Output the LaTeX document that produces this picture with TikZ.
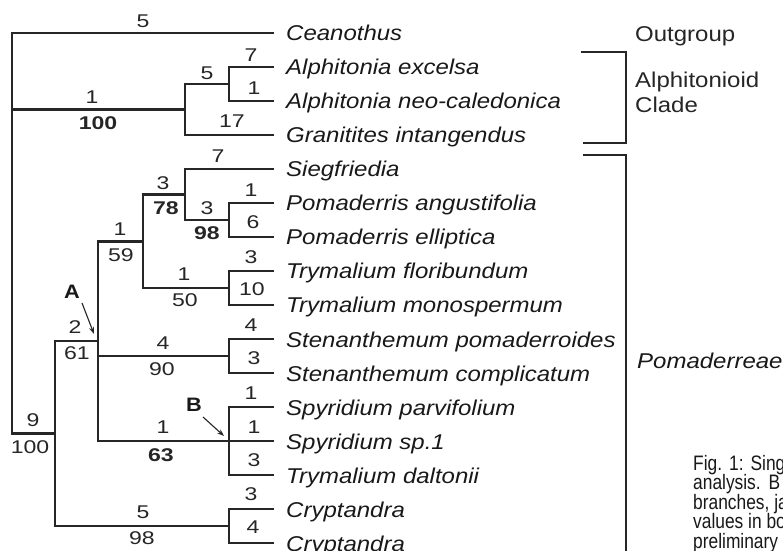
\documentclass[tikz,border=0pt]{standalone}
\usepackage{fontspec}
\setmainfont{Liberation Sans}
\newfontfamily\taxfont[FakeStretch=1.12]{Liberation Sans}
\newfontfamily\numfont[FakeStretch=1.25]{Liberation Sans}
\newfontfamily\capfont[FakeStretch=0.83]{Liberation Sans}
\usetikzlibrary{arrows.meta}
\begin{document}
\begin{tikzpicture}[x=1bp,y=-1bp,
  branch/.style={draw=black!85, line width=2.8bp, line cap=rect, line join=miter},
  brack/.style={draw=black!85, line width=2.2bp, line join=miter},
  taxon/.style={anchor=base west, inner sep=0pt, font=\taxfont\itshape\fontsize{21.5}{24}\selectfont, text=black!90},
  group/.style={anchor=base west, inner sep=0pt, font=\taxfont\fontsize{21.5}{24}\selectfont, text=black!85},
  num/.style={inner sep=0pt, font=\numfont\fontsize{18.5}{20}\selectfont, text=black!85},
  bnum/.style={inner sep=0pt, font=\numfont\bfseries\fontsize{18.5}{20}\selectfont, text=black!85},
  letter/.style={inner sep=0pt, font=\taxfont\bfseries\fontsize{19.5}{22}\selectfont, text=black!90},
  pointer/.style={draw=black!85, line width=1.1bp, -{Stealth[length=7bp,width=5bp]}},
  captxt/.style={anchor=base west, inner sep=0pt, font=\capfont\fontsize{21}{23}\selectfont, text=black!90}
]
\fill[white] (0,0) rectangle (783,551);
\useasboundingbox (0,0) rectangle (783,551);
\clip (0,0) rectangle (783,551);

% tips
\coordinate (t1) at (273,33);
\coordinate (t2) at (273,67);
\coordinate (t3) at (273,101);
\coordinate (t4) at (273,135);
\coordinate (t5) at (273,169);
\coordinate (t6) at (273,203);
\coordinate (t7) at (273,237);
\coordinate (t8) at (273,271);
\coordinate (t9) at (273,305);
\coordinate (t10) at (273,339);
\coordinate (t11) at (273,373);
\coordinate (t12) at (273,407);
\coordinate (t13) at (273,441);
\coordinate (t14) at (273,475);
\coordinate (t15) at (273,509);
\coordinate (t16) at (273,543);
% internal nodes
\coordinate (root) at (12,233);
\coordinate (alph) at (185,109.5);
\coordinate (alphA) at (229,84);
\coordinate (ingrp) at (55,433.75);
\coordinate (nA) at (98,341);
\coordinate (upper) at (143,241.25);
\coordinate (sieg) at (185,194.5);
\coordinate (pom) at (229,220);
\coordinate (trym) at (229,288);
\coordinate (sten) at (229,356);
\coordinate (spyr) at (229,441);
\coordinate (crypt) at (229,526);

% branches
\draw[branch] (root) |- (t1);
\draw[branch] (root) |- (alph);
\draw[branch] (root) |- (ingrp);
\draw[branch] (alph) |- (alphA);
\draw[branch] (alph) |- (t4);
\draw[branch] (alphA) |- (t2);
\draw[branch] (alphA) |- (t3);
\draw[branch] (ingrp) |- (nA);
\draw[branch] (ingrp) |- (crypt);
\draw[branch] (nA) |- (upper);
\draw[branch] (nA) |- (sten);
\draw[branch] (nA) |- (spyr);
\draw[branch] (upper) |- (sieg);
\draw[branch] (upper) |- (trym);
\draw[branch] (sieg) |- (t5);
\draw[branch] (sieg) |- (pom);
\draw[branch] (pom) |- (t6);
\draw[branch] (pom) |- (t7);
\draw[branch] (trym) |- (t8);
\draw[branch] (trym) |- (t9);
\draw[branch] (sten) |- (t10);
\draw[branch] (sten) |- (t11);
\draw[branch] (spyr) |- (t12);
\draw[branch] (spyr) -- (t13);
\draw[branch] (spyr) |- (t14);
\draw[branch] (crypt) |- (t15);
\draw[branch] (crypt) |- (t16);

% taxa
\node[taxon] (n1) at (286,41) {Ceanothus};
\node[taxon] (n2) at (286,75) {Alphitonia excelsa};
\node[taxon] (n3) at (286,109) {Alphitonia neo-caledonica};
\node[taxon] (n4) at (286,143) {Granitites intangendus};
\node[taxon] (n5) at (286,177) {Siegfriedia};
\node[taxon] (n6) at (286,211) {Pomaderris angustifolia};
\node[taxon] (n7) at (286,245) {Pomaderris elliptica};
\node[taxon] (n8) at (286,279) {Trymalium floribundum};
\node[taxon] (n9) at (286,313) {Trymalium monospermum};
\node[taxon] (n10) at (286,347) {Stenanthemum pomaderroides};
\node[taxon] (n11) at (286,381) {Stenanthemum complicatum};
\node[taxon] (n12) at (286,415) {Spyridium parvifolium};
\node[taxon] (n13) at (286,449) {Spyridium sp.1};
\node[taxon] (n14) at (286,483) {Trymalium daltonii};
\node[taxon] (n15) at (286,517) {Cryptandra};
\node[taxon] (n16) at (286,551) {Cryptandra};

% group labels and brackets
\node[group] (g1) at (635,42) {Outgroup};
\node[group] (g2) at (635,88) {Alphitonioid};
\node[group] (g3) at (635,113) {Clade};
\node[taxon] (g4) at (637,368) {Pomaderreae};
\coordinate (b1a) at (581,52);
\coordinate (b1b) at (626,52);
\coordinate (b1c) at (626,143);
\coordinate (b1d) at (583,143);
\draw[brack] (b1a) -- (b1b) -- (b1c) -- (b1d);
\coordinate (b2a) at (583,155);
\coordinate (b2b) at (626,155);
\coordinate (b2c) at (626,560);
\draw[brack] (b2a) -- (b2b) -- (b2c);

% branch numbers
\node[num] (l1) at (143,21) {5};
\node[num] (l2) at (92,97) {1};
\node[bnum] (l3) at (98,123) {100};
\node[num] (l4) at (207,73) {5};
\node[num] (l5) at (251,55) {7};
\node[num] (l6) at (254,88) {1};
\node[num] (l7) at (232,121) {17};
\node[num] (l8) at (218,156) {7};
\node[num] (l9) at (163,183) {3};
\node[bnum] (l10) at (166,208) {78};
\node[num] (l11) at (251,190) {1};
\node[num] (l12) at (207,208) {3};
\node[bnum] (l13) at (207,233) {98};
\node[num] (l14) at (253,222) {6};
\node[num] (l15) at (120,229) {1};
\node[num] (l16) at (121,255) {59};
\node[num] (l17) at (251,257) {3};
\node[num] (l18) at (184,274) {1};
\node[num] (l19) at (185,300) {50};
\node[num] (l20) at (252,289) {10};
\node[num] (l21) at (75,327) {2};
\node[num] (l22) at (77,353) {61};
\node[num] (l23) at (163,343) {4};
\node[num] (l24) at (162,369) {90};
\node[num] (l25) at (251,325) {4};
\node[num] (l26) at (254,358) {3};
\node[num] (l27) at (251,393) {1};
\node[num] (l28) at (254,427) {1};
\node[num] (l29) at (163,427) {1};
\node[bnum] (l30) at (161,455) {63};
\node[num] (l31) at (254,460) {3};
\node[num] (l32) at (33,420) {9};
\node[num] (l33) at (30,447) {100};
\node[num] (l34) at (251,494) {3};
\node[num] (l35) at (143,512) {5};
\node[num] (l36) at (142,538) {98};
\node[num] (l37) at (253,527) {4};

% A and B markers
\node[letter] (labA) at (72,292) {A};
\node[letter] (labB) at (194,405) {B};
\coordinate (aTail) at (82,303);
\coordinate (aTip) at (94,334);
\coordinate (bTail) at (203,417);
\coordinate (bTip) at (224,436);
\draw[pointer] (aTail) -- (aTip);
\draw[pointer] (bTail) -- (bTip);

% caption fragment
\node[captxt] (c1) at (693,470) {Fig.\hspace{7bp}1:\hspace{7bp}Sing};
\node[captxt] (c2) at (693,489.5) {analysis.\hspace{8bp}B};
\node[captxt] (c3) at (693,509) {branches, ja};
\node[captxt] (c4) at (693,528.5) {values in bo};
\node[captxt] (c5) at (693,548) {preliminary};
\end{tikzpicture}
\end{document}
